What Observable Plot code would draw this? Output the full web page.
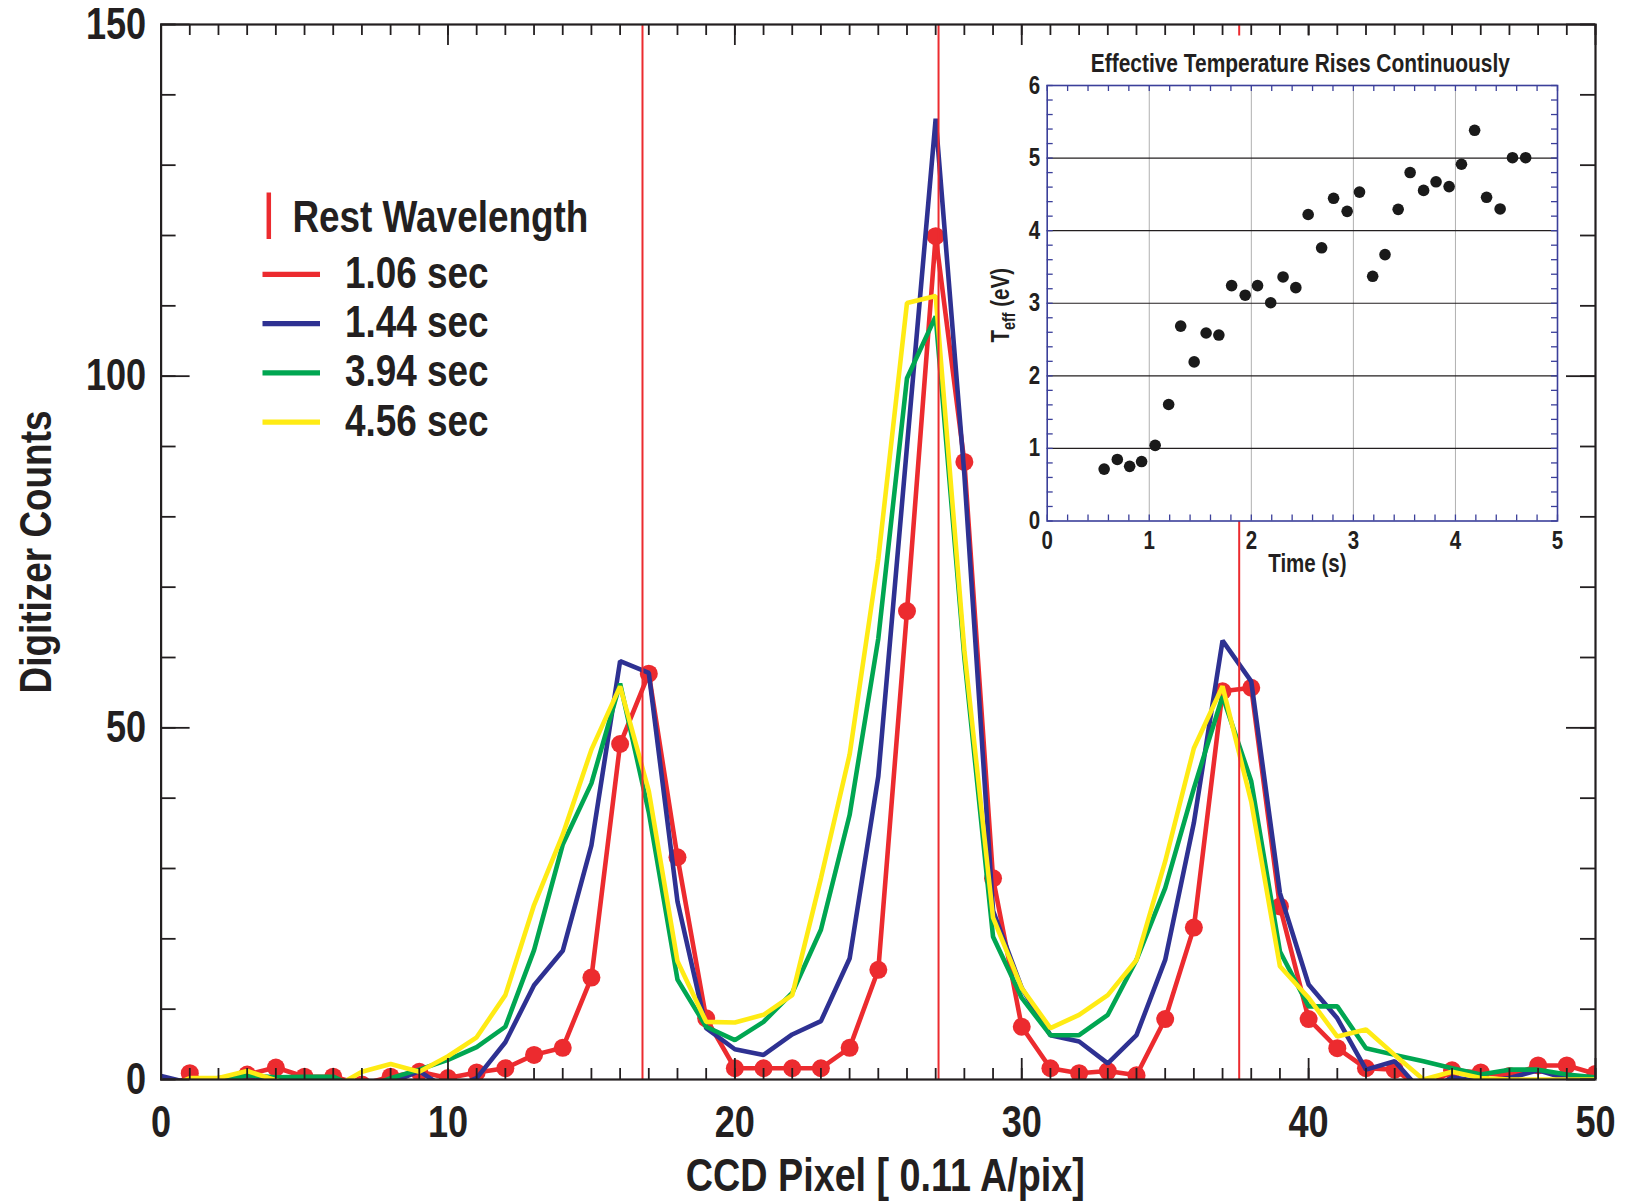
<!DOCTYPE html>
<html><head><meta charset="utf-8">
<script src="https://cdn.jsdelivr.net/npm/d3@7"></script>
<script src="https://cdn.jsdelivr.net/npm/@observablehq/plot@0.6"></script>
<style>
html,body{margin:0;padding:0;background:#fff;}
#wrap{position:relative;width:1625px;height:1201px;overflow:hidden;background:#fff;}
#wrap > svg{position:absolute;}
</style></head><body><div id="wrap"></div>
<script>
// ---------- data ----------
const ccdPixel = [0,1,2,3,4,5,6,7,8,9,10,11,12,13,14,15,16,17,18,19,20,21,22,23,24,25,26,27,28,29,30,31,32,33,34,35,36,37,38,39,40,41,42,43,44,45,46,47,48,49,50];
const counts106 = [-3,0.9,-1.5,0.7,1.7,0.4,0.4,-0.7,0.4,1.1,0.2,1.0,1.6,3.5,4.5,14.5,47.7,57.7,31.6,8.7,1.6,1.6,1.6,1.6,4.5,15.6,66.6,119.9,87.8,28.6,7.5,1.6,0.9,1.2,0.6,8.6,21.6,55.2,55.7,24.6,8.6,4.45,1.6,1.4,-1.5,1.3,1.0,0.5,2.0,2.0,0.8];
const counts144 = [0.5,-0.5,0.2,0.5,0.2,-0.5,-0.5,-1.5,-0.5,1.2,-1.5,0.2,5.3,13.4,18.3,33.3,59.5,57.8,25.3,7.3,4.3,3.5,6.4,8.3,17.2,43.1,90,136.6,86,24,13,6.3,5.4,2.3,6.3,17,36.5,62.4,56.6,26.5,13.5,8.7,1.4,2.6,-2,0.3,-0.3,0.2,1.3,0.1,0];
const counts394 = [-1,-1,-0.5,0.6,0.3,0.4,0.4,-1.5,0.2,1.4,2.8,4.6,7.5,18.4,33.4,42.1,56.3,38,14.2,7.5,5.6,8.2,12.3,21.3,37.6,62.7,99.7,108.5,60,20.3,11.6,6.3,6.3,9.2,17,27.2,41.4,54.5,42.4,18.2,10.4,10.4,4.45,3.5,2.6,1.6,0.7,1.4,1.4,0.7,0.3];
const counts456 = [-1.5,0.2,0.2,1.2,-0.1,-1.2,-1.2,1.1,2.2,1.1,3.3,6.0,12.0,24.8,34.8,46.9,55.9,41,16.8,8.2,8.1,9.2,12.0,28.6,46.2,74,110.4,111.4,61,23,13,7.3,9.2,12,17,31,47.1,55.9,39.5,16.1,11.6,6.1,7.1,3.5,0,1.1,0.2,0,0,0,0];
const seriesNames = ["1.06 sec","1.44 sec","3.94 sec","4.56 sec"];
const seriesColors = ["#EC2B2F","#2E3192","#00A651","#FFEB14"];
const restLabel = "Rest Wavelength";
const restWavelengths = [16.78, 27.10, 37.58];
const xMajorTicks = [0,10,20,30,40,50];
const yMajorTicks = [0,50,100,150];
const xLabel = "CCD Pixel [ 0.11 A/pix]";
const yLabel = "Digitizer Counts";

const insetTime = [0.558,0.687,0.808,0.925,1.058,1.190,1.308,1.440,1.557,1.682,1.807,1.940,2.061,2.190,2.311,2.436,2.557,2.689,2.806,2.939,3.060,3.189,3.310,3.439,3.556,3.688,3.810,3.938,4.059,4.188,4.305,4.438,4.559,4.688];
const insetTeff = [0.715,0.848,0.753,0.819,1.042,1.605,2.685,2.192,2.590,2.562,3.243,3.111,3.243,3.007,3.362,3.215,4.223,3.764,4.446,4.266,4.531,3.371,3.670,4.294,4.801,4.555,4.673,4.607,4.915,5.383,4.460,4.299,5.005,5.005];
const insetXTicks = [0,1,2,3,4,5];
const insetYTicks = [0,1,2,3,4,5,6];
const insetTitle = "Effective Temperature Rises Continuously";
const insetXLabel = "Time (s)";
const insetYLabel = "Teff (eV)";

// ---------- style ----------
const FONT = '"Liberation Sans",Arial,Helvetica,sans-serif';
const CONDENSE = 0.82;
const INK = "#231f20";
const NAVY = "#3b3f9a";
const seriesValues = [counts106, counts144, counts394, counts456];
const spectra = seriesNames.flatMap((name, k) => ccdPixel.map((px, i) => ({pixel: px, counts: seriesValues[k][i], series: name})));

const W = 1625, H = 1201, mL = 160.6, mR = 30, mT = 24, mB = 122;
const PH = H - mT - mB, PW = W - mL - mR;
const xMinor = d3.range(0, 51), yMinor = d3.range(0, 151, 10);
const tickStyle = {stroke: INK, strokeWidth: 1.8};
const txt = {fontWeight: "bold", fontFamily: FONT, fill: INK};

const main = Plot.plot({
  width: W, height: H,
  marginLeft: mL, marginRight: mR, marginTop: mT, marginBottom: mB,
  x: {domain: [0, 50]}, y: {domain: [0, 150]},
  style: {fontFamily: FONT, fontWeight: "bold", color: INK, background: "white", overflow: "visible"},
  marks: [
    Plot.line(spectra.filter(d => d.series === seriesNames[0]), {x: "pixel", y: "counts", stroke: seriesColors[0], strokeWidth: 4.6, strokeLinejoin: "miter", clip: true}),
    Plot.dot(spectra.filter(d => d.series === seriesNames[0]), {x: "pixel", y: "counts", r: 9, fill: seriesColors[0], stroke: null, clip: true}),
    Plot.line(spectra.filter(d => d.series === seriesNames[1]), {x: "pixel", y: "counts", stroke: seriesColors[1], strokeWidth: 4.6, strokeLinejoin: "miter", clip: true}),
    Plot.line(spectra.filter(d => d.series === seriesNames[2]), {x: "pixel", y: "counts", stroke: seriesColors[2], strokeWidth: 4.6, strokeLinejoin: "miter", clip: true}),
    Plot.line(spectra.filter(d => d.series === seriesNames[3]), {x: "pixel", y: "counts", stroke: seriesColors[3], strokeWidth: 4.6, strokeLinejoin: "miter", clip: true}),
    Plot.ruleX(restWavelengths, {x: d => d, stroke: seriesColors[0], strokeWidth: 2}),
    Plot.ruleX(xMinor, {x: d => d, insetTop: PH - 11, ...tickStyle}),
    Plot.ruleX(xMajorTicks, {x: d => d, insetTop: PH - 21, ...tickStyle}),
    Plot.ruleX(xMinor, {x: d => d, insetBottom: PH - 11, ...tickStyle}),
    Plot.ruleX(xMajorTicks, {x: d => d, insetBottom: PH - 21, ...tickStyle}),
    Plot.ruleY(yMinor, {y: d => d, insetRight: PW - 15, ...tickStyle}),
    Plot.ruleY(yMajorTicks, {y: d => d, insetRight: PW - 29, ...tickStyle}),
    Plot.ruleY(yMinor, {y: d => d, insetLeft: PW - 15, ...tickStyle}),
    Plot.ruleY(yMajorTicks, {y: d => d, insetLeft: PW - 29, ...tickStyle}),
    Plot.frame({stroke: INK, strokeWidth: 2.2}),
    Plot.axisX(xMajorTicks, {anchor: "bottom", tickSize: 0, tickPadding: 26, fontSize: 44, tickFormat: d => String(d), label: null, ...txt}),
    Plot.axisY(yMajorTicks, {anchor: "left", tickSize: 0, tickPadding: 15, fontSize: 44, tickFormat: d => String(d), label: null, ...txt}),
    Plot.text([xLabel], {text: d => d, frameAnchor: "bottom", lineAnchor: "middle", textAnchor: "middle", dy: 97, dx: 7, fontSize: 46, ...txt}),
    Plot.text([yLabel], {text: d => d, frameAnchor: "left", lineAnchor: "middle", textAnchor: "middle", dx: -124.3, rotate: -90, fontSize: 45, ...txt})
  ]
});
main.style.left = "0px"; main.style.top = "0px";
document.getElementById("wrap").appendChild(main);

// ---------- inset ----------
const iW = 620, iH = 545, iL = 86.7, iR = 23, iT = 45, iB = 64.5;
const iPH = iH - iT - iB, iPW = iW - iL - iR;
const insetData = insetTime.map((t, i) => ({time: t, teff: insetTeff[i]}));
const iXMinor = d3.range(0, 26).map(i => i / 5), iYMinor = d3.range(0, 31).map(i => i / 5);
const iTick = {stroke: NAVY, strokeWidth: 1.3};
const inset = Plot.plot({
  width: iW, height: iH,
  marginLeft: iL, marginRight: iR, marginTop: iT, marginBottom: iB,
  x: {domain: [0, 5]}, y: {domain: [0, 6]},
  style: {fontFamily: FONT, fontWeight: "bold", color: INK, background: "transparent", overflow: "visible"},
  marks: [
    Plot.frame({fill: "white", stroke: null, insetTop: -50}),
    Plot.ruleX(insetXTicks.slice(1, -1), {x: d => d, stroke: "#b0b0b0", strokeWidth: 1}),
    Plot.ruleY(insetYTicks.slice(1, -1), {y: d => d, stroke: INK, strokeWidth: 1.2}),
    Plot.ruleX(iXMinor, {x: d => d, insetTop: iPH - 6, ...iTick}),
    Plot.ruleX(iXMinor, {x: d => d, insetBottom: iPH - 6, ...iTick}),
    Plot.ruleY(iYMinor, {y: d => d, insetRight: iPW - 6, ...iTick}),
    Plot.ruleY(iYMinor, {y: d => d, insetLeft: iPW - 6, ...iTick}),
    Plot.frame({stroke: NAVY, strokeWidth: 1.6}),
    Plot.axisX(insetXTicks, {anchor: "bottom", tickSize: 0, tickPadding: 10, fontSize: 25, tickFormat: d => String(d), label: null, ...txt}),
    Plot.axisY(insetYTicks, {anchor: "left", tickSize: 0, tickPadding: 7, fontSize: 25, tickFormat: d => String(d), label: null, ...txt}),
    Plot.dot(insetData, {x: "time", y: "teff", r: 5.8, fill: "#1a1a1a", stroke: null}),
    Plot.text([insetTitle], {text: d => d, frameAnchor: "top", lineAnchor: "middle", textAnchor: "middle", dy: -22, dx: -2, fontSize: 25.5, ...txt}),
    Plot.text([insetXLabel], {text: d => d, frameAnchor: "bottom", lineAnchor: "middle", textAnchor: "middle", dy: 43, dx: 5, fontSize: 25, ...txt}),
    Plot.text([insetYLabel], {text: d => d, frameAnchor: "left", lineAnchor: "middle", textAnchor: "middle", dx: -46.7, dy: 2, rotate: -90, fontSize: 25, ...txt})
  ]
});
inset.style.left = "960px"; inset.style.top = "40px";
document.getElementById("wrap").appendChild(inset);
d3.select(inset).selectAll("text").filter(function() { return this.textContent === insetYLabel; })
  .each(function() {
    const t = d3.select(this).text(null);
    t.append("tspan").text("T");
    t.append("tspan").attr("dy", 6).attr("font-size", "70%").text("eff");
    t.append("tspan").attr("dy", -6).text(" (eV)");
  });

// ---------- legend ----------
const legend = d3.create("svg").attr("width", W).attr("height", H)
  .style("left", "0px").style("top", "0px").style("pointer-events", "none")
  .attr("font-family", FONT).attr("font-weight", "bold").attr("fill", INK);
legend.append("line").attr("x1", 268.8).attr("x2", 268.8).attr("y1", 192.5).attr("y2", 239)
  .attr("stroke", seriesColors[0]).attr("stroke-width", 4.5);
legend.append("text").attr("x", 292.4).attr("y", 232).attr("font-size", 45).text(restLabel);
seriesNames.forEach((name, i) => {
  const y = 274.3 + i * 49.3;
  legend.append("line").attr("x1", 262.5).attr("x2", 320).attr("y1", y).attr("y2", y)
    .attr("stroke", seriesColors[i]).attr("stroke-width", 5.3);
  legend.append("text").attr("x", 345).attr("y", y + 13.5).attr("font-size", 45).text(name);
});
document.getElementById("wrap").appendChild(legend.node());

// ---------- condensed lettering (Helvetica Condensed look) ----------
document.querySelectorAll("#wrap svg text").forEach(t => {
  const len = t.getComputedTextLength();
  if (len > 0) {
    t.setAttribute("textLength", (len * CONDENSE).toFixed(2));
    t.setAttribute("lengthAdjust", "spacingAndGlyphs");
  }
});
</script></body></html>
